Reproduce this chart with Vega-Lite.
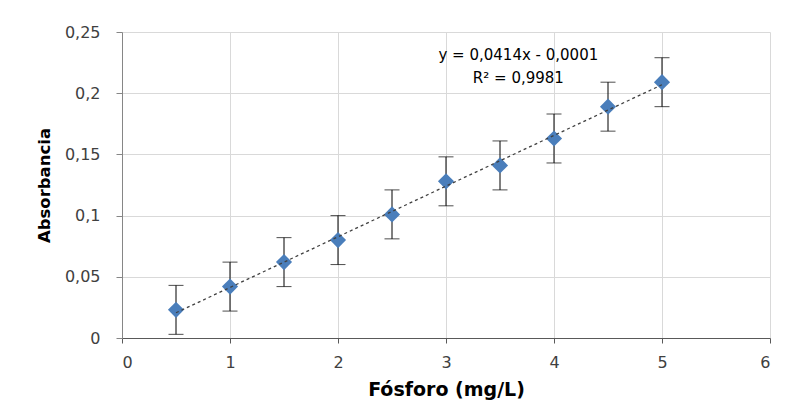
{
  "$schema": "https://vega.github.io/schema/vega-lite/v6.json",
  "width": 648,
  "height": 306,
  "autosize": {"type": "none"},
  "padding": {"left": 122, "top": 32, "right": 25, "bottom": 72},
  "background": "white",
  "config": {
    "view": {"stroke": null}
  },
  "datasets": {
    "pts": [
      {"x": 0.5, "y": 0.023, "err": 0.02},
      {"x": 1.0, "y": 0.042, "err": 0.02},
      {"x": 1.5, "y": 0.062, "err": 0.02},
      {"x": 2.0, "y": 0.080, "err": 0.02},
      {"x": 2.5, "y": 0.101, "err": 0.02},
      {"x": 3.0, "y": 0.128, "err": 0.02},
      {"x": 3.5, "y": 0.141, "err": 0.02},
      {"x": 4.0, "y": 0.163, "err": 0.02},
      {"x": 4.5, "y": 0.189, "err": 0.02},
      {"x": 5.0, "y": 0.209, "err": 0.02}
    ],
    "fit": [
      {"x": 0.5, "y": 0.0206},
      {"x": 5.0, "y": 0.2069}
    ],
    "labels": [
      {"x": 3.67, "y": 0.2315, "t": "y = 0,0414x - 0,0001"},
      {"x": 3.67, "y": 0.2125, "t": "R² = 0,9981"}
    ]
  },
  "layer": [
    {
      "data": {"name": "pts"},
      "transform": [
        {"calculate": "datum.y - datum.err", "as": "lo"},
        {"calculate": "datum.y + datum.err", "as": "hi"}
      ],
      "mark": {"type": "rule", "color": "#000000", "strokeWidth": 1},
      "encoding": {
        "x": {
          "field": "x", "type": "quantitative",
          "scale": {"domain": [0, 6], "nice": false},
          "axis": {
            "title": "Fósforo (mg/L)",
            "values": [0, 1, 2, 3, 4, 5, 6],
            "format": "d",
            "grid": true,
            "gridColor": "#d9d9d9",
            "tickSize": 5,
            "labelPadding": 11,
            "titlePadding": 10,
            "domainColor": "#595959",
            "tickColor": "#595959",
            "labelFont": "DejaVu Sans",
            "labelFontSize": 16,
            "labelColor": "#404040",
            "titleFont": "DejaVu Sans",
            "titleFontSize": 19,
            "titleFontWeight": "bold",
            "titleColor": "#000000"
          }
        },
        "y": {
          "field": "lo", "type": "quantitative",
          "scale": {"domain": [0, 0.25], "nice": false},
          "axis": {
            "title": "Absorbancia",
            "values": [0, 0.05, 0.1, 0.15, 0.2, 0.25],
            "labelExpr": "replace(format(datum.value, '~g'), '.', ',')",
            "grid": true,
            "gridColor": "#d9d9d9",
            "tickSize": 6,
            "labelPadding": 16,
            "titlePadding": 12,
            "domainColor": "#868686",
            "tickColor": "#868686",
            "labelFont": "DejaVu Sans",
            "labelFontSize": 16,
            "labelColor": "#404040",
            "titleFont": "DejaVu Sans",
            "titleFontSize": 16.5,
            "titleFontWeight": "bold",
            "titleColor": "#000000"
          }
        },
        "y2": {"field": "hi"}
      }
    },
    {
      "data": {"name": "pts"},
      "transform": [{"calculate": "datum.y + datum.err", "as": "hi"}],
      "mark": {"type": "tick", "orient": "horizontal", "color": "#000000", "thickness": 1, "size": 15},
      "encoding": {
        "x": {"field": "x", "type": "quantitative"},
        "y": {"field": "hi", "type": "quantitative"}
      }
    },
    {
      "data": {"name": "pts"},
      "transform": [{"calculate": "datum.y - datum.err", "as": "lo"}],
      "mark": {"type": "tick", "orient": "horizontal", "color": "#000000", "thickness": 1, "size": 15},
      "encoding": {
        "x": {"field": "x", "type": "quantitative"},
        "y": {"field": "lo", "type": "quantitative"}
      }
    },
    {
      "data": {"name": "pts"},
      "mark": {"type": "point", "shape": "diamond", "filled": true, "color": "#4a7ebb", "opacity": 1, "size": 260},
      "encoding": {
        "x": {"field": "x", "type": "quantitative"},
        "y": {"field": "y", "type": "quantitative"}
      }
    },
    {
      "data": {"name": "fit"},
      "mark": {"type": "line", "color": "#404040", "strokeWidth": 1.3, "strokeDash": [3, 3]},
      "encoding": {
        "x": {"field": "x", "type": "quantitative"},
        "y": {"field": "y", "type": "quantitative"}
      }
    },
    {
      "data": {"name": "labels"},
      "mark": {"type": "text", "font": "DejaVu Sans", "fontSize": 15, "color": "#000000", "align": "center", "baseline": "middle"},
      "encoding": {
        "x": {"field": "x", "type": "quantitative"},
        "y": {"field": "y", "type": "quantitative"},
        "text": {"field": "t"}
      }
    }
  ]
}
